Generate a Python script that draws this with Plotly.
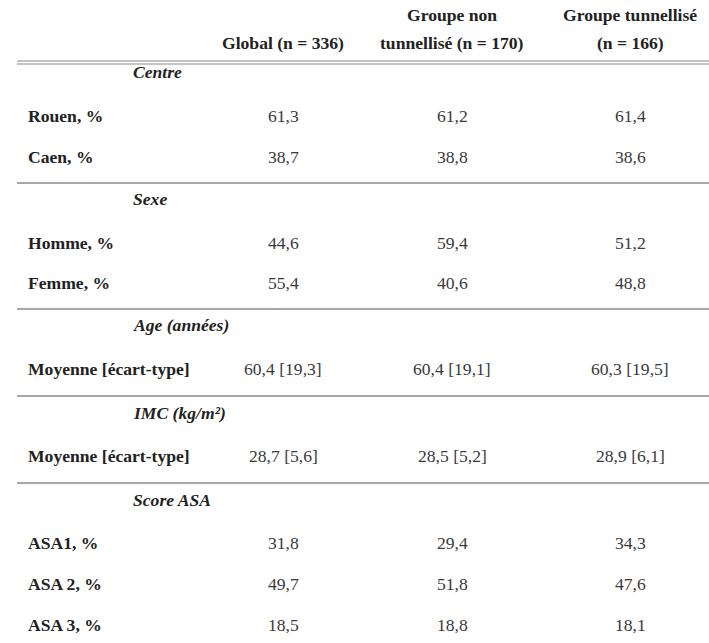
import plotly.graph_objects as go

# ---- data ----
col_header_lines = [
    ["", "Global (n = 336)"],
    ["Groupe non", "tunnellisé (n = 170)"],
    ["Groupe tunnellisé", "(n = 166)"],
]
sections = ["Centre", "Sexe", "Age (années)", "IMC (kg/m²)", "Score ASA"]
row_labels = [
    ["Rouen, %", "Caen, %"],
    ["Homme, %", "Femme, %"],
    ["Moyenne [écart-type]"],
    ["Moyenne [écart-type]"],
    ["ASA1, %", "ASA 2, %", "ASA 3, %"],
]
global_vals = [["61,3", "38,7"], ["44,6", "55,4"], ["60,4 [19,3]"], ["28,7 [5,6]"], ["31,8", "49,7", "18,5"]]
non_tun_vals = [["61,2", "38,8"], ["59,4", "40,6"], ["60,4 [19,1]"], ["28,5 [5,2]"], ["29,4", "51,8", "18,8"]]
tun_vals = [["61,4", "38,6"], ["51,2", "48,8"], ["60,3 [19,5]"], ["28,9 [6,1]"], ["34,3", "47,6", "18,1"]]

# ---- layout (pixel geometry) ----
W, H = 709, 643
col_x = [283, 452, 630]
header_y = [15, 43]
label_x = 26
section_x = 131
section_y = [72, 199, 325, 413, 500]
row_y = [[116, 157], [243, 283], [369], [456], [543, 584, 625]]
sep_y = [183, 309, 396, 483]
FONT = "'Liberation Serif', 'DejaVu Serif', serif"
TXT = "#222222"
VAL = "#3a3a3a"
SIZE = 17.6

ann = []
for cx, lines in zip(col_x, col_header_lines):
    for hy, line in zip(header_y, lines):
        if line:
            ann.append(dict(x=cx, y=hy, text="<b>" + line + "</b>", xref="x", yref="y", showarrow=False,
                            xanchor="center", yanchor="middle", font=dict(family=FONT, size=SIZE, color=TXT)))

for s, sy, labels, ys, g, n, t in zip(sections, section_y, row_labels, row_y, global_vals, non_tun_vals, tun_vals):
    ann.append(dict(x=section_x, y=sy, text="<b><i>" + s + "</i></b>", xref="x", yref="y", showarrow=False,
                    xanchor="left", yanchor="middle", font=dict(family=FONT, size=SIZE, color=TXT)))
    for lab, y, a, b, c in zip(labels, ys, g, n, t):
        ann.append(dict(x=label_x, y=y, text="<b>" + lab + "</b>", xref="x", yref="y", showarrow=False,
                        xanchor="left", yanchor="middle", font=dict(family=FONT, size=SIZE, color=TXT)))
        for cx, v in zip(col_x, (a, b, c)):
            ann.append(dict(x=cx, y=y, text=v, xref="x", yref="y", showarrow=False,
                            xanchor="center", yanchor="middle", font=dict(family=FONT, size=SIZE, color=VAL)))

shapes = []
for yy in (61, 64):
    shapes.append(dict(type="line", xref="x", yref="y", x0=17, x1=W, y0=yy, y1=yy,
                       line=dict(color="#8a8a8a", width=1.2)))
for yy in sep_y:
    shapes.append(dict(type="line", xref="x", yref="y", x0=17, x1=W, y0=yy, y1=yy,
                       line=dict(color="#8a8a8a", width=1.5)))

fig = go.Figure()
fig.update_layout(
    width=W, height=H, margin=dict(l=0, r=0, t=0, b=0),
    paper_bgcolor="white", plot_bgcolor="white",
    font=dict(family=FONT),
    xaxis=dict(range=[0, W], visible=False, fixedrange=True),
    yaxis=dict(range=[H, 0], visible=False, fixedrange=True),
    annotations=ann, shapes=shapes, showlegend=False,
)
fig.write_html("out.html", config={"displayModeBar": False},
               post_script="document.body.style.margin='0';document.body.style.overflow='hidden';")
